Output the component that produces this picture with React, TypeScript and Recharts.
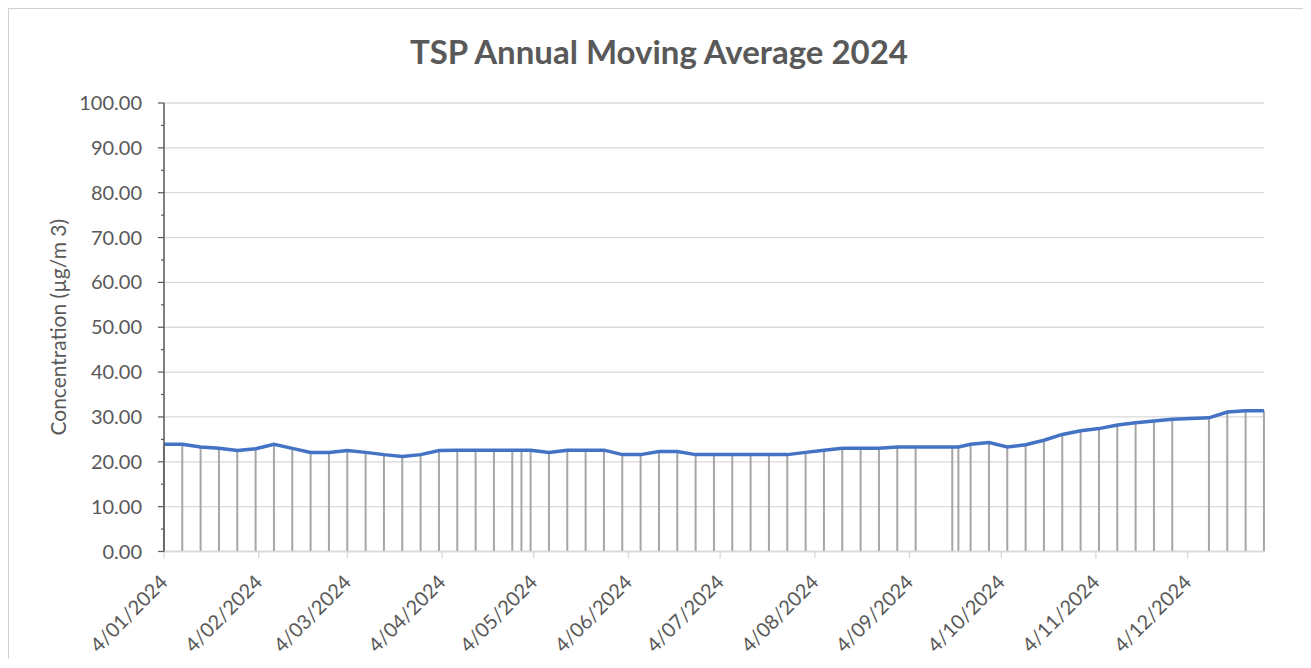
import { ComposedChart, Line, Bar, XAxis, YAxis, CartesianGrid, Label } from 'recharts';

// sample dates (d/mm/yyyy on the axis), roughly every 6 days
const sampleDates = [
  '2024-01-04', '2024-01-10', '2024-01-16', '2024-01-22', '2024-01-28',
  '2024-02-03', '2024-02-09', '2024-02-15', '2024-02-21', '2024-02-27',
  '2024-03-04', '2024-03-10', '2024-03-16', '2024-03-22', '2024-03-28',
  '2024-04-03', '2024-04-09', '2024-04-15', '2024-04-21', '2024-04-27',
  '2024-04-30', '2024-05-03', '2024-05-09', '2024-05-15', '2024-05-21',
  '2024-05-27', '2024-06-02', '2024-06-08', '2024-06-14', '2024-06-20',
  '2024-06-26', '2024-07-02', '2024-07-08', '2024-07-14', '2024-07-20',
  '2024-07-26', '2024-08-01', '2024-08-07', '2024-08-13', '2024-08-19',
  '2024-08-25', '2024-08-31', '2024-09-06', '2024-09-18', '2024-09-20',
  '2024-09-24', '2024-09-30', '2024-10-06', '2024-10-12', '2024-10-18',
  '2024-10-24', '2024-10-30', '2024-11-05', '2024-11-11', '2024-11-17',
  '2024-11-23', '2024-11-29', '2024-12-11', '2024-12-17', '2024-12-23',
  '2024-12-29',
];

const tspValues = [
  23.9, 23.9, 23.3, 23.0, 22.5,
  22.9, 23.9, 23.0, 22.1, 22.1,
  22.5, 22.1, 21.6, 21.2, 21.6,
  22.5, 22.6, 22.6, 22.6, 22.6,
  22.6, 22.6, 22.1, 22.6, 22.6,
  22.6, 21.6, 21.6, 22.3, 22.3,
  21.6, 21.6, 21.6, 21.6, 21.6,
  21.6, 22.1, 22.6, 23.0, 23.0,
  23.0, 23.3, 23.3, 23.3, 23.3,
  23.9, 24.3, 23.3, 23.8, 24.8,
  26.1, 26.9, 27.4, 28.2, 28.7,
  29.1, 29.5, 29.8, 31.1, 31.4,
  31.4,
];

const monthTicks = [
  '2024-01-04', '2024-02-04', '2024-03-04', '2024-04-04', '2024-05-04', '2024-06-04',
  '2024-07-04', '2024-08-04', '2024-09-04', '2024-10-04', '2024-11-04', '2024-12-04',
];

const yTicks = [0, 5, 10, 15, 20, 25, 30, 35, 40, 45, 50, 55, 60, 65, 70, 75, 80, 85, 90, 95, 100];
const gridValues = [0, 10, 20, 30, 40, 50, 60, 70, 80, 90, 100];

const xStart = '2024-01-04';
const xEnd = '2024-12-29';

const FONT = 'Lato, "Noto Sans", sans-serif';
const TEXT = '#595959';
const Y_TICK_SIZE = 6;
const Y_TICK_MARGIN = 16;

const toTime = (s: string) => new Date(s + 'T00:00:00Z').getTime();

const data = sampleDates.map((d, i) => ({ t: toTime(d), tsp: tspValues[i] }));

function formatDate(t: number): string {
  const d = new Date(t);
  const mm = String(d.getUTCMonth() + 1).padStart(2, '0');
  return `${d.getUTCDate()}/${mm}/${d.getUTCFullYear()}`;
}

function YTick(props: any) {
  const { x, y, payload } = props;
  const axisX = x + Y_TICK_SIZE + Y_TICK_MARGIN;
  const major = payload.value % 10 === 0;
  return (
    <g>
      <line
        x1={axisX - (major ? 6 : 3)}
        x2={axisX}
        y1={y}
        y2={y}
        stroke="#595959"
        strokeWidth={1.2}
      />
      {major && (
        <text x={x} y={y} dy="0.35em" textAnchor="end" fill={TEXT} fontSize={20} fontFamily={FONT}>
          {payload.value.toFixed(2)}
        </text>
      )}
    </g>
  );
}

function XTick(props: any) {
  const { x, y, payload } = props;
  return (
    <g transform={`translate(${x + 5},${y + 23})`}>
      <text textAnchor="end" transform="rotate(-45)" fill={TEXT} fontSize={20} fontFamily={FONT}>
        {formatDate(payload.value)}
      </text>
    </g>
  );
}

function YTitle(props: any) {
  const vb = props.viewBox;
  const cx = vb.x + 57;
  const cy = vb.y + vb.height / 2;
  return (
    <text
      x={cx}
      y={cy}
      transform={`rotate(-90 ${cx} ${cy})`}
      textAnchor="middle"
      fill={TEXT}
      fontSize={21}
      fontFamily={FONT}
    >
      Concentration (µg/m 3)
    </text>
  );
}

export default function App() {
  return (
    <div
      style={{
        position: 'relative',
        width: 1300,
        height: 650,
        borderTop: '1px solid #d0d0d0',
        borderLeft: '1px solid #d0d0d0',
        borderRight: '1px solid #d0d0d0',
        background: '#fff',
      }}
    >
      <div
        style={{
          position: 'absolute',
          top: 26,
          left: 0,
          width: 1300,
          textAlign: 'center',
          fontFamily: FONT,
          fontWeight: 700,
          fontSize: 33,
          lineHeight: 1,
          color: TEXT,
        }}
      >
        TSP Annual Moving Average 2024
      </div>
      <ComposedChart
        width={1300}
        height={650}
        data={data}
        margin={{ top: 94, right: 45, bottom: 7.5, left: 0 }}
      >
        <CartesianGrid vertical={false} horizontalValues={gridValues} stroke="#d9d9d9" strokeWidth={1.3} />
        <XAxis
          dataKey="t"
          type="number"
          domain={[toTime(xStart), toTime(xEnd)]}
          ticks={monthTicks.map(toTime)}
          interval={0}
          height={100}
          tickSize={7}
          tickMargin={2}
          axisLine={{ stroke: '#d9d9d9', strokeWidth: 1.3 }}
          tickLine={{ stroke: '#d9d9d9', strokeWidth: 1.3 }}
          tick={<XTick />}
        />
        <YAxis
          type="number"
          domain={[0, 100]}
          ticks={yTicks}
          interval={0}
          width={155}
          tickSize={Y_TICK_SIZE}
          tickMargin={Y_TICK_MARGIN}
          tickLine={false}
          axisLine={{ stroke: '#595959', strokeWidth: 1.5 }}
          tick={<YTick />}
        >
          <Label content={<YTitle />} />
        </YAxis>
        <Bar dataKey="tsp" fill="#a6a6a6" barSize={2} isAnimationActive={false} />
        <Line
          type="linear"
          dataKey="tsp"
          stroke="#4472c4"
          strokeWidth={3.5}
          dot={false}
          activeDot={false}
          isAnimationActive={false}
        />
      </ComposedChart>
    </div>
  );
}
